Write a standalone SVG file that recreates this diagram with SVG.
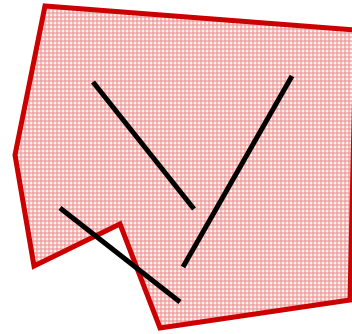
<svg xmlns="http://www.w3.org/2000/svg" width="352" height="334" viewBox="0 0 352 334">
<style>
.shape{fill:url(#hatch);stroke:#cc0000;stroke-width:5;stroke-linejoin:miter}
.seg{stroke:#000;stroke-width:5;fill:none}
</style>
<defs>
<pattern id="hatch" patternUnits="userSpaceOnUse" width="4" height="4">
<rect x="0" y="0" width="4" height="4" fill="#fdeaea"/>
<rect x="0" y="0" width="4" height="2" fill="#f5baba"/>
<rect x="0" y="0" width="2" height="4" fill="#f5baba"/>
<rect x="0" y="0" width="2" height="2" fill="#efa3a3"/>
<rect x="3" y="3" width="1" height="1" fill="#ffffff"/>
</pattern>
</defs>
<g id="polygon">
<polygon class="shape" points="45,6 356,30 350,300 160,328 120,224 34,266 15,155"/>
</g>
<g id="segments">
<line class="seg" x1="93" y1="82" x2="194" y2="209"/>
<line class="seg" x1="292" y1="76" x2="183" y2="267"/>
<line class="seg" x1="60" y1="208" x2="180" y2="302"/>
</g>
</svg>
